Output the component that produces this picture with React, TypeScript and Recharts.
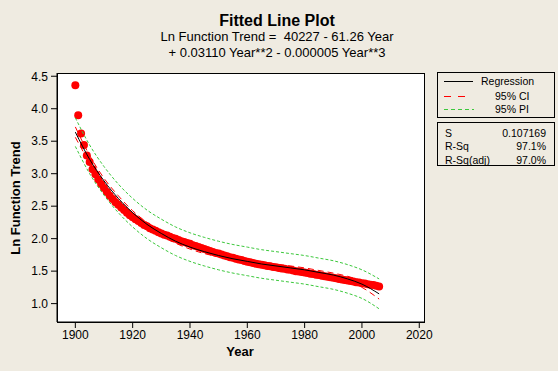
import React from 'react';
import { ComposedChart, XAxis, YAxis, Scatter, Line } from 'recharts';

const BG = '#EFEBE1';
const FONT = '"Liberation Sans", Arial, sans-serif';

// Observed data: one point per year, starting in 1900
const firstYear = 1900;
const lnTrend = [
  4.36, 3.90, 3.62, 3.44, 3.28, 3.18, 3.07, 2.99, 2.91, 2.84,
  2.78, 2.72, 2.66, 2.61, 2.56, 2.52, 2.48, 2.44, 2.40, 2.36,
  2.33, 2.30, 2.27, 2.24, 2.21, 2.19, 2.16, 2.14, 2.12, 2.10,
  2.08, 2.06, 2.05, 2.03, 2.01, 2.00, 1.98, 1.96, 1.95, 1.935,
  1.92, 1.90, 1.885, 1.87, 1.855, 1.84, 1.825, 1.81, 1.795, 1.78,
  1.77, 1.755, 1.74, 1.73, 1.715, 1.705, 1.69, 1.68, 1.67, 1.655,
  1.645, 1.635, 1.625, 1.615, 1.605, 1.60, 1.59, 1.58, 1.575, 1.565,
  1.56, 1.55, 1.54, 1.535, 1.525, 1.52, 1.51, 1.50, 1.495, 1.485,
  1.48, 1.47, 1.46, 1.455, 1.445, 1.44, 1.43, 1.42, 1.415, 1.405,
  1.40, 1.39, 1.38, 1.37, 1.365, 1.355, 1.35, 1.34, 1.33, 1.325,
  1.315, 1.31, 1.30, 1.29, 1.285, 1.275, 1.265,
];

// Fitted curve and bands, read at sample years
const fitYears = [1900, 1905, 1910, 1915, 1920, 1925, 1930, 1935, 1940, 1945, 1950, 1955, 1960, 1965, 1970, 1975, 1980, 1985, 1990, 1995, 2000, 2006];
const fitValues = [3.64, 3.22, 2.89, 2.62, 2.40, 2.22, 2.08, 1.96, 1.87, 1.80, 1.74, 1.69, 1.65, 1.61, 1.58, 1.55, 1.52, 1.48, 1.44, 1.38, 1.30, 1.15];
const ciUpper = [3.72, 3.28, 2.93, 2.66, 2.43, 2.25, 2.11, 1.99, 1.90, 1.82, 1.77, 1.72, 1.67, 1.64, 1.61, 1.58, 1.55, 1.51, 1.47, 1.42, 1.35, 1.23];
const ciLower = [3.56, 3.17, 2.85, 2.59, 2.37, 2.19, 2.05, 1.93, 1.84, 1.77, 1.72, 1.67, 1.62, 1.59, 1.55, 1.52, 1.49, 1.45, 1.41, 1.35, 1.25, 1.07];
const piUpper = [3.86, 3.44, 3.11, 2.84, 2.62, 2.44, 2.30, 2.18, 2.09, 2.02, 1.96, 1.91, 1.87, 1.83, 1.80, 1.77, 1.74, 1.70, 1.66, 1.60, 1.52, 1.38];
const piLower = [3.42, 3.00, 2.67, 2.40, 2.18, 2.00, 1.86, 1.74, 1.65, 1.58, 1.52, 1.47, 1.43, 1.39, 1.36, 1.33, 1.30, 1.26, 1.22, 1.16, 1.08, 0.92];

const xTicks = [1900, 1920, 1940, 1960, 1980, 2000, 2020];
const yTicks = [1.0, 1.5, 2.0, 2.5, 3.0, 3.5, 4.0, 4.5];

const obsData = lnTrend.map((y, i) => ({ x: firstYear + i, y }));
const mk = (vals: number[]) => fitYears.map((x, i) => ({ x, y: vals[i] }));

const Dot = (p: any) => <circle cx={p.cx} cy={p.cy} r={4} fill="#FF0000" />;

const tickStyle = { fill: '#000', fontSize: 12, fontFamily: FONT };

export default function App() {
  return (
    <div style={{ position: 'absolute', left: 0, top: 0, width: 558, height: 371, background: BG, fontFamily: FONT, color: '#000', overflow: 'hidden' }}>
      <div style={{ position: 'absolute', left: 177, width: 200, top: 11, textAlign: 'center', fontWeight: 'bold', fontSize: 16, lineHeight: '20px' }}>Fitted Line Plot</div>
      <div style={{ position: 'absolute', left: 77, width: 400, top: 29, textAlign: 'center', fontSize: 13, lineHeight: '16px', whiteSpace: 'pre' }}>{'Ln Function Trend =  40227 - 61.26 Year'}</div>
      <div style={{ position: 'absolute', left: 77, width: 400, top: 45, textAlign: 'center', fontSize: 13, lineHeight: '16px', whiteSpace: 'pre' }}>{'+ 0.03110 Year**2 - 0.000005 Year**3'}</div>

      <div style={{ position: 'absolute', left: 57, top: 73, width: 368, height: 250, background: '#fff', border: '1px solid #000', boxSizing: 'border-box' }} />

      <div style={{ position: 'absolute', left: 0, top: 0 }}>
        <ComposedChart width={558} height={371} margin={{ top: 73, right: 133, bottom: 0, left: 0 }}>
          <XAxis type="number" dataKey="x" domain={[1893.6, 2022]} ticks={xTicks} allowDataOverflow height={49} tickSize={6} tickMargin={2} stroke="#000" tick={tickStyle} interval={0} />
          <YAxis type="number" dataKey="y" domain={[0.717, 4.55]} ticks={yTicks} allowDataOverflow width={57} tickSize={6} tickMargin={3} stroke="#000" tick={tickStyle} interval={0} tickFormatter={(v: number) => v.toFixed(1)} />
          <Scatter data={obsData} dataKey="y" shape={Dot} isAnimationActive={false} />
          <Line data={mk(piUpper)} dataKey="y" type="monotone" stroke="#3CC83C" strokeWidth={1} strokeDasharray="3 2" dot={false} activeDot={false} isAnimationActive={false} zIndex={700} />
          <Line data={mk(piLower)} dataKey="y" type="monotone" stroke="#3CC83C" strokeWidth={1} strokeDasharray="3 2" dot={false} activeDot={false} isAnimationActive={false} zIndex={700} />
          <Line data={mk(ciUpper)} dataKey="y" type="monotone" stroke="#FF0000" strokeWidth={1} strokeDasharray="6 4" dot={false} activeDot={false} isAnimationActive={false} zIndex={700} />
          <Line data={mk(ciLower)} dataKey="y" type="monotone" stroke="#FF0000" strokeWidth={1} strokeDasharray="6 4" dot={false} activeDot={false} isAnimationActive={false} zIndex={700} />
          <Line data={mk(fitValues)} dataKey="y" type="monotone" stroke="#000" strokeWidth={1} dot={false} activeDot={false} isAnimationActive={false} zIndex={700} />
        </ComposedChart>
      </div>

      <div style={{ position: 'absolute', left: 6, top: 198, width: 20, height: 0 }}>
        <div style={{ position: 'absolute', left: -60, top: -8, width: 140, textAlign: 'center', fontWeight: 'bold', fontSize: 13, lineHeight: '16px', transform: 'rotate(-90deg)' }}>Ln Function Trend</div>
      </div>
      <div style={{ position: 'absolute', left: 190, width: 100, top: 344, textAlign: 'center', fontWeight: 'bold', fontSize: 13, lineHeight: '16px' }}>Year</div>

      <div style={{ position: 'absolute', left: 437, top: 72, width: 118, height: 46, border: '1px solid #000', boxSizing: 'border-box', fontSize: 10.5 }}>
        <svg width={40} height={46} style={{ position: 'absolute', left: 5, top: 0 }}>
          <line x1={1} x2={30} y1={8.5} y2={8.5} stroke="#000" strokeWidth={1} />
          <line x1={1} x2={28} y1={23.5} y2={23.5} stroke="#FF0000" strokeWidth={1} strokeDasharray="7 7" />
          <line x1={1} x2={31} y1={36.5} y2={36.5} stroke="#3CC83C" strokeWidth={1} strokeDasharray="4 3" />
        </svg>
        <div style={{ position: 'absolute', left: 43, top: 2, lineHeight: '12px' }}>Regression</div>
        <div style={{ position: 'absolute', left: 57, top: 17, lineHeight: '12px' }}>95% CI</div>
        <div style={{ position: 'absolute', left: 57, top: 30, lineHeight: '12px' }}>95% PI</div>
      </div>

      <div style={{ position: 'absolute', left: 437, top: 122, width: 118, height: 44, border: '1px solid #000', boxSizing: 'border-box', fontSize: 10.5 }}>
        <div style={{ position: 'absolute', left: 7, top: 4, lineHeight: '12px' }}>S</div>
        <div style={{ position: 'absolute', right: 8, top: 4, lineHeight: '12px' }}>0.107169</div>
        <div style={{ position: 'absolute', left: 7, top: 17, lineHeight: '12px' }}>R-Sq</div>
        <div style={{ position: 'absolute', right: 8, top: 17, lineHeight: '12px' }}>97.1%</div>
        <div style={{ position: 'absolute', left: 7, top: 31, lineHeight: '12px' }}>R-Sq(adj)</div>
        <div style={{ position: 'absolute', right: 8, top: 31, lineHeight: '12px' }}>97.0%</div>
      </div>
    </div>
  );
}
